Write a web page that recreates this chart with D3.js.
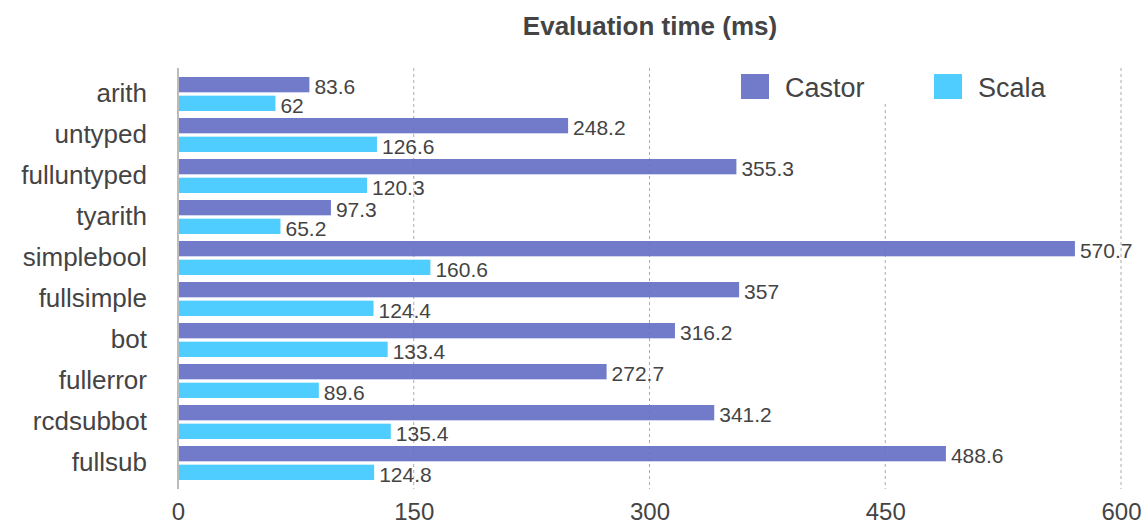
<!DOCTYPE html>
<html>
<head>
<meta charset="utf-8">
<script src="https://cdn.jsdelivr.net/npm/d3@7"></script>
<style>
  html, body { margin: 0; padding: 0; background: #fff; }
  svg text { font-family: "Liberation Sans", Arial, sans-serif; fill: #444; }
</style>
</head>
<body>
<svg id="chart" width="1146" height="526"></svg>
<script>
// Benchmarks and evaluation times (ms)
const categories = ["arith", "untyped", "fulluntyped", "tyarith", "simplebool",
  "fullsimple", "bot", "fullerror", "rcdsubbot", "fullsub"];
const castor = [83.6, 248.2, 355.3, 97.3, 570.7, 357, 316.2, 272.7, 341.2, 488.6];
const scala = [62, 126.6, 120.3, 65.2, 160.6, 124.4, 133.4, 89.6, 135.4, 124.8];
const seriesNames = ["Castor", "Scala"];
const xTicks = [0, 150, 300, 450, 600];

const colors = { Castor: "#6670c5", Scala: "#40c9fe" };
const fontFamily = '"Liberation Sans", Arial, sans-serif';

const svg = d3.select("#chart");
const plotTop = 68, plotBottom = 489;

const x = d3.scaleLinear().domain([0, 600]).range([178, 1121]);
const y = d3.scaleBand().domain(categories).range([73.5, 483.5]);
const sub = d3.scaleBand().domain(seriesNames).range([3.5, 37.5]).paddingInner(0.18);

// Title
svg.append("text")
  .attr("x", 650).attr("y", 35)
  .attr("text-anchor", "middle")
  .style("font-size", "26px").style("font-weight", "bold")
  .text("Evaluation time (ms)");

// Vertical dashed grid lines
svg.append("g").selectAll("line")
  .data(xTicks.filter(d => d > 0))
  .join("line")
  .attr("x1", d => x(d)).attr("x2", d => x(d))
  .attr("y1", plotTop).attr("y2", plotBottom)
  .attr("stroke", "#aaa").attr("stroke-width", 1)
  .attr("stroke-dasharray", "3,3");

// Bars
const rows = categories.map((c, i) => ({ cat: c, Castor: castor[i], Scala: scala[i] }));
const group = svg.append("g").selectAll("g")
  .data(rows).join("g")
  .attr("transform", d => `translate(0,${y(d.cat)})`);

group.selectAll("rect")
  .data(d => seriesNames.map(s => ({ s, v: d[s] })))
  .join("rect")
  .attr("x", x(0))
  .attr("y", d => sub(d.s))
  .attr("width", d => x(d.v) - x(0))
  .attr("height", sub.bandwidth())
  .attr("fill", d => colors[d.s])
  .attr("fill-opacity", 0.92);

// Value labels
group.selectAll("text")
  .data(d => seriesNames.map(s => ({ s, v: d[s] })))
  .join("text")
  .attr("x", d => x(d.v) + 5)
  .attr("y", d => sub(d.s) + sub.bandwidth() + 2)
  .style("font-size", "21px")
  .text(d => d.v);

// Y axis (category labels and axis line)
const yAxis = d3.axisLeft(y).tickSize(0).tickPadding(31);
const yg = svg.append("g").attr("transform", `translate(${x(0)},0)`).call(yAxis);
yg.select(".domain").remove();
yg.selectAll("text").attr("dy", "0.3em")
  .style("font-size", "26px").style("fill", "#444").style("font-family", fontFamily);
svg.append("line")
  .attr("x1", x(0)).attr("x2", x(0))
  .attr("y1", plotTop).attr("y2", plotBottom)
  .attr("stroke", "#bbb").attr("stroke-width", 2);

// X axis tick labels
const xAxis = d3.axisBottom(x).tickValues(xTicks).tickSize(0).tickPadding(0);
const xg = svg.append("g").attr("transform", `translate(0,520)`).call(xAxis);
xg.select(".domain").remove();
xg.selectAll("text").attr("dy", 0)
  .style("font-size", "24px").style("fill", "#444").style("font-family", fontFamily);

// Legend with white backing
const legend = svg.append("g");
legend.append("rect")
  .attr("x", 735).attr("y", 66).attr("width", 330).attr("height", 36)
  .attr("fill", "#fff");
const legendX = [741, 934];
seriesNames.forEach((s, i) => {
  legend.append("rect")
    .attr("x", legendX[i]).attr("y", 74).attr("width", 28).attr("height", 25)
    .attr("fill", colors[s]).attr("fill-opacity", 0.92);
  legend.append("text")
    .attr("x", legendX[i] + 44).attr("y", 97)
    .style("font-size", "27px")
    .text(s);
});
</script>
</body>
</html>
